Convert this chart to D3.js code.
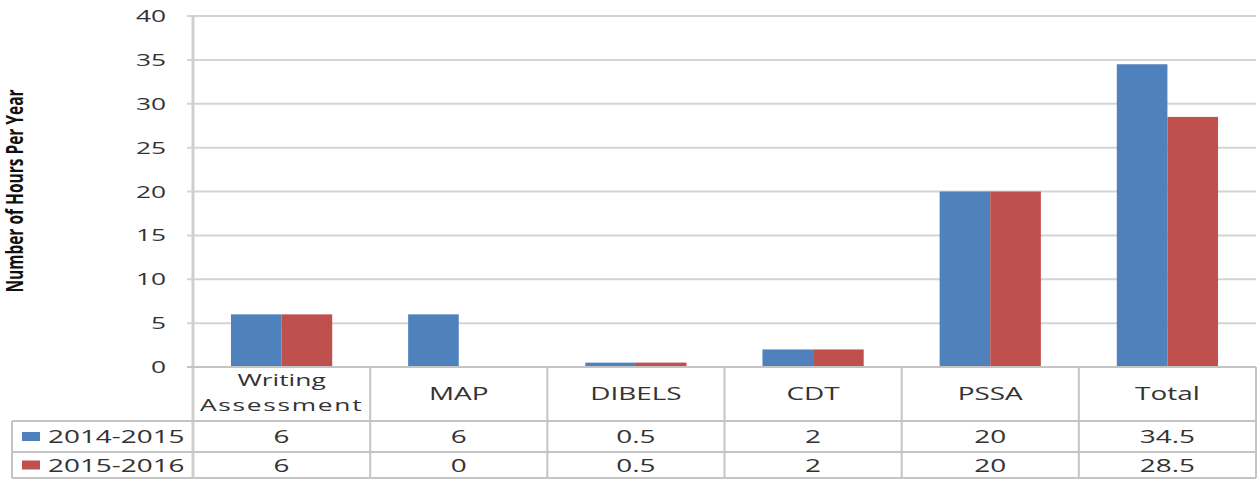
<!DOCTYPE html>
<html>
<head>
<meta charset="utf-8">
<script src="https://cdn.jsdelivr.net/npm/d3@7"></script>
<style>
  body { margin: 0; background: #fff; }
  svg { display: block; }
  .lbl { font-family: "Open Sans", sans-serif; fill: #333; }
</style>
</head>
<body>
<script>
(function(){
    //chart data
    var categories = ["Writing Assessment", "MAP", "DIBELS", "CDT", "PSSA", "Total"];
    var catLines = [["Writing", "Assessment"], ["MAP"], ["DIBELS"], ["CDT"], ["PSSA"], ["Total"]];
    var seriesNames = ["2014-2015", "2015-2016"];
    var values2014 = [6, 6, 0.5, 2, 20, 34.5];
    var values2015 = [6, 0, 0.5, 2, 20, 28.5];
    var yTicks = [0, 5, 10, 15, 20, 25, 30, 35, 40];
    var colors = ["#4F81BD", "#C0504D"];

    var width = 1257, height = 479;
    var left = 193, right = 1256, top = 16, bottom = 367;
    var rowLines = [421, 452, 478];
    var tableLeft = 12;
    var sx = 1.55; // the original text is stretched horizontally

    var svg = d3.select("body").append("svg")
        .attr("width", width)
        .attr("height", height);

    var x = d3.scaleBand()
        .domain(categories)
        .range([left, right])
        .padding(0);

    var xSub = d3.scaleBand()
        .domain(seriesNames)
        .range([0, x.bandwidth()])
        .paddingInner(0)
        .paddingOuter(0.75);

    var y = d3.scaleLinear()
        .domain([0, 40])
        .range([bottom, top]);

    //stretched text helper
    function addText(x0, y0, str, size, anchor){
        return svg.append("g")
            .attr("transform", "translate(" + x0 + "," + y0 + ") scale(" + sx + ",1)")
            .append("text")
            .attr("class", "lbl")
            .attr("text-anchor", anchor || "middle")
            .style("font-size", size + "px")
            .text(str);
    }

    //gridlines
    svg.selectAll(".grid")
        .data(yTicks.filter(function(d){ return d > 0; }))
        .enter()
        .append("line")
        .attr("class", "grid")
        .attr("x1", left - 6)
        .attr("x2", right)
        .attr("y1", function(d){ return y(d); })
        .attr("y2", function(d){ return y(d); })
        .attr("stroke", "#d4d4d4")
        .attr("stroke-width", 2);

    //y tick labels
    yTicks.forEach(function(t){
        addText(166, y(t) + 6, t, 17, "end");
    });

    //bars
    var seriesData = [values2014, values2015];
    seriesData.forEach(function(vals, s){
        svg.selectAll(".bar" + s)
            .data(vals)
            .enter()
            .append("rect")
            .attr("class", "bar" + s)
            .attr("x", function(d, i){ return x(categories[i]) + xSub(seriesNames[s]); })
            .attr("width", xSub.bandwidth())
            .attr("y", function(d){ return y(d); })
            .attr("height", function(d){ return y(0) - y(d); })
            .attr("fill", colors[s]);
    });

    //axis and table lines
    var lineColor = "#c4c4c4";
    svg.append("line")
        .attr("x1", left).attr("x2", left)
        .attr("y1", top).attr("y2", rowLines[2])
        .attr("stroke", "#cfcfcf").attr("stroke-width", 3);
    svg.append("line")
        .attr("x1", left - 6).attr("x2", right)
        .attr("y1", bottom).attr("y2", bottom)
        .attr("stroke", lineColor).attr("stroke-width", 2);
    svg.selectAll(".hrow")
        .data(rowLines)
        .enter()
        .append("line")
        .attr("x1", tableLeft).attr("x2", right)
        .attr("y1", function(d){ return d; })
        .attr("y2", function(d){ return d; })
        .attr("stroke", lineColor).attr("stroke-width", 2);
    svg.selectAll(".vcol")
        .data(categories)
        .enter()
        .append("line")
        .attr("x1", function(d){ return x(d) + x.bandwidth(); })
        .attr("x2", function(d){ return x(d) + x.bandwidth(); })
        .attr("y1", bottom).attr("y2", rowLines[2])
        .attr("stroke", lineColor).attr("stroke-width", 2);
    svg.append("line")
        .attr("x1", tableLeft).attr("x2", tableLeft)
        .attr("y1", rowLines[0]).attr("y2", rowLines[2])
        .attr("stroke", lineColor).attr("stroke-width", 2);

    //category labels
    catLines.forEach(function(lines, i){
        var cx = x(categories[i]) + x.bandwidth() / 2;
        if (lines.length == 1){
            addText(cx, 400, lines[0], 18);
        } else {
            addText(cx, 386, lines[0], 17);
            addText(cx, 411, lines[1], 17).attr("letter-spacing", 1.1);
        }
    });

    //legend rows and values
    var rowMid = [436.5, 465];
    seriesData.forEach(function(vals, s){
        svg.append("rect")
            .attr("x", 22).attr("y", rowMid[s] - 4.5)
            .attr("width", 18).attr("height", 9)
            .attr("fill", colors[s]);
        addText(48, rowMid[s] + 6.5, seriesNames[s], 18, "start");
        vals.forEach(function(v, i){
            addText(x(categories[i]) + x.bandwidth() / 2, rowMid[s] + 6.5, v, 18);
        });
    });

    //y axis title
    svg.append("g")
        .attr("transform", "translate(23,191) scale(1.45,1) rotate(-90)")
        .append("text")
        .attr("text-anchor", "middle")
        .style("font-family", "'Open Sans', sans-serif")
        .style("font-weight", "bold")
        .style("font-size", "15.5px")
        .attr("fill", "#111")
        .text("Number of Hours Per Year");
})();
</script>
</body>
</html>
